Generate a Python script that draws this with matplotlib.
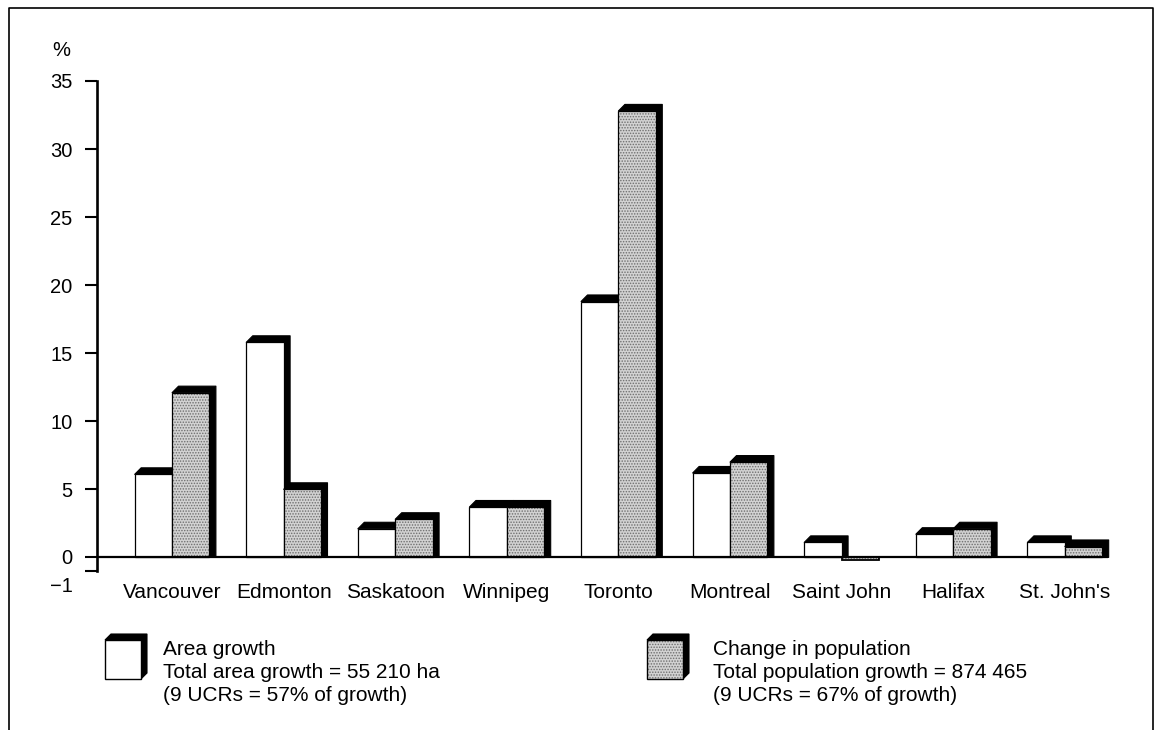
import matplotlib
matplotlib.use("Agg")
import matplotlib.pyplot as plt
from matplotlib.patches import Polygon, Rectangle
from matplotlib.lines import Line2D
from matplotlib.transforms import ScaledTranslation

plt.rcParams['font.family'] = ['Liberation Sans', 'DejaVu Sans']
plt.rcParams['hatch.linewidth'] = 0.7

# ---- data ----
cities = ["Vancouver", "Edmonton", "Saskatoon", "Winnipeg", "Toronto",
          "Montreal", "Saint John", "Halifax", "St. John's"]
area_growth = [6.1, 15.8, 2.1, 3.7, 18.8, 6.2, 1.1, 1.7, 1.1]
population_change = [12.1, 5.0, 2.8, 3.7, 32.8, 7.0, -0.2, 2.1, 0.8]
yticks = [35, 30, 25, 20, 15, 10, 5, 0, -1]
legend_area = ["Area growth", "Total area growth = 55 210 ha",
               "(9 UCRs = 57% of growth)"]
legend_pop = ["Change in population", "Total population growth = 874 465",
              "(9 UCRs = 67% of growth)"]

W, H = 1158, 730
fig = plt.figure(figsize=(W / 100, H / 100), dpi=100)

# main axes positioned in pixels
left_px, right_px, top_px, bot_px = 97.5, 1108, 81, 571
ax = fig.add_axes([left_px / W, (H - bot_px) / H,
                   (right_px - left_px) / W, (bot_px - top_px) / H])
ax.set_ylim(-1, 35)
ax.set_xlim(-0.668, 8.387)

GRAY = '#d2d2d2'
HATCHC = '#6e6e6e'
bw = 0.335           # bar width (x units)
dx = 0.058           # depth in x units
dy = 0.48            # depth in y units


def face(axis, x0, y0, w, h, kind, lw=0.9, z=3):
    if kind == 'gray':
        axis.add_patch(Rectangle((x0, y0), w, h, facecolor=GRAY, edgecolor=HATCHC,
                                 hatch='......', linewidth=0, zorder=z, clip_on=False))
        axis.add_patch(Rectangle((x0, y0), w, h, fill=False, edgecolor='black',
                                 linewidth=lw, zorder=z + 0.1, clip_on=False))
    else:
        axis.add_patch(Rectangle((x0, y0), w, h, facecolor='white', edgecolor='black',
                                 linewidth=lw, zorder=z, clip_on=False))


def bar3d(x0, v, kind, z):
    if v > 0:
        shadow = [(x0, v), (x0 + dx, v + dy), (x0 + bw + dx, v + dy),
                  (x0 + bw + dx, 0), (x0 + bw, 0), (x0 + bw, v)]
        ax.add_patch(Polygon(shadow, closed=True, facecolor='black', edgecolor='black',
                             linewidth=0.8, joinstyle='round', zorder=z, clip_on=False))
        face(ax, x0, 0, bw, v, kind, z=z + 0.2)
    else:
        face(ax, x0, v, bw, -v, kind, lw=1.3, z=z + 0.2)


for i, (a, p) in enumerate(zip(area_growth, population_change)):
    bar3d(i - bw, a, 'white', 3 + i * 2)
    bar3d(i, p, 'gray', 4 + i * 2)

# baseline
ax.axhline(0, color='black', linewidth=1.6, zorder=30)

# spines / ticks
for s in ['top', 'right', 'bottom']:
    ax.spines[s].set_visible(False)
ax.spines['left'].set_linewidth(1.9)
ax.spines['left'].set_bounds(-1, 35)
ax.set_yticks(yticks)
ax.set_yticklabels([str(t) if t >= 0 else '\u22121' for t in yticks])
ax.tick_params(axis='y', direction='out', length=9, width=1.5, pad=9,
               labelsize=14.5, colors='black')
# the -1 label sits below its tick in the reference
for lab, t in zip(ax.get_yticklabels(), yticks):
    if t < 0:
        lab.set_transform(lab.get_transform() +
                          ScaledTranslation(0, -14 / 100, fig.dpi_scale_trans))
    if t == 0:
        lab.set_transform(lab.get_transform() +
                          ScaledTranslation(0, 1 / 100, fig.dpi_scale_trans))
ax.set_xticks(range(len(cities)))
ax.set_xticklabels(cities)
ax.tick_params(axis='x', length=0, pad=8.5, labelsize=15)
ax.patch.set_alpha(0)

# overlay axes in pixel coordinates for frame, % label and legend
ov = fig.add_axes([0, 0, 1, 1], zorder=-1)
ov.set_xlim(0, W)
ov.set_ylim(H, 0)
ov.axis('off')

# frame (open at bottom)
ov.add_line(Line2D([9, 9, 1153, 1153], [H, 8, 8, H], color='black', linewidth=1.2))

ov.text(61, 50, '%', fontsize=14.5, ha='center', va='center')


def legend_box(x0, kind):
    y_top, y_bot, d = 640, 679, 6
    w = 36
    shadow = [(x0, y_top), (x0 + d, y_top - d), (x0 + w + d, y_top - d),
              (x0 + w + d, y_bot - d), (x0 + w, y_bot), (x0 + w, y_top)]
    ov.add_patch(Polygon(shadow, closed=True, facecolor='black', edgecolor='black',
                         linewidth=0.8, zorder=2))
    face(ov, x0, y_top, w, y_bot - y_top, kind, lw=1.0, z=3)


legend_box(105, 'white')
legend_box(647, 'gray')
for k, (la, lp) in enumerate(zip(legend_area, legend_pop)):
    yb = 655 + 23 * k
    ov.text(163, yb, la, fontsize=15, ha='left', va='baseline')
    ov.text(713, yb, lp, fontsize=15, ha='left', va='baseline')

fig.savefig('out.png', dpi=100, facecolor='white')
